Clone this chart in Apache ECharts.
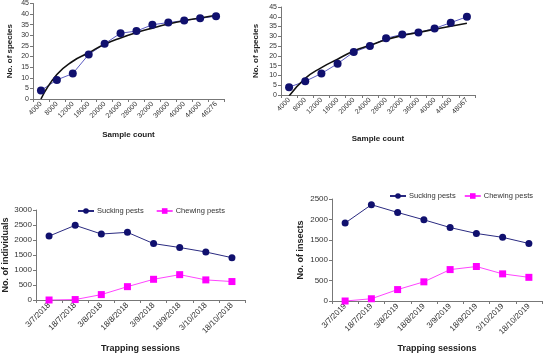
<!DOCTYPE html>
<html>
<head>
<meta charset="utf-8">
<script src="https://cdn.jsdelivr.net/npm/echarts@6/dist/echarts.min.js"></script>
<style>
  html, body { margin: 0; padding: 0; background: #fff; }
  #main { width: 545px; height: 354px; }
</style>
</head>
<body>
<div id="main"></div>
<script>
// species accumulation, left panel
const sampleLeft = ['4000', '8000', '12000', '16000', '20000', '24000', '28000', '32000', '36000', '40000', '44000', '46276'];
const speciesLeft = [4, 9, 12, 21, 26, 31, 32, 35, 36, 37, 38, 39];
const trendLeft = [0, 11.5, 17.8, 21.8, 25.8, 28.8, 31.3, 33.4, 35.3, 36.9, 38.2, 39.5];

// species accumulation, right panel
const sampleRight = ['4000', '8000', '12000', '16000', '20000', '24000', '28000', '32000', '36000', '40000', '44000', '48067'];
const speciesRight = [4, 7, 11, 16, 22, 25, 29, 31, 32, 34, 37, 40];
const trendRight = [-0.5, 8.5, 14, 18.3, 22.5, 25.4, 28.3, 30.4, 32, 33.6, 35.2, 36.7];

// trapping sessions
const sessions2018 = ['3/7/2018', '18/7/2018', '3/8/2018', '18/8/2018', '3/9/2018', '18/9/2018', '3/10/2018', '18/10/2018'];
const sucking2018 = [2130, 2490, 2200, 2255, 1880, 1750, 1600, 1410];
const chewing2018 = [0, 15, 180, 445, 690, 845, 670, 615];

const sessions2019 = ['3/7/2019', '18/7/2019', '3/8/2019', '18/8/2019', '3/9/2019', '18/9/2019', '3/10/2019', '18/10/2019'];
const sucking2019 = [1910, 2360, 2170, 1990, 1800, 1655, 1560, 1410];
const chewing2019 = [0, 55, 280, 470, 770, 845, 665, 580];

const font = 'Liberation Sans, Arial, sans-serif';
const navy = '#10106e';
const magenta = '#ff00ff';

function catAxis(idx, data, name, gap, size) {
  return {
    type: 'category', gridIndex: idx, data: data, boundaryGap: true,
    name: name, nameLocation: 'middle', nameGap: gap,
    nameTextStyle: { fontFamily: font, fontWeight: 'bold', fontSize: size + 1, color: '#222' },
    axisLine: { lineStyle: { color: '#777', width: 1 } },
    axisTick: { show: true, length: 3, lineStyle: { color: '#777' } },
    axisLabel: { rotate: 45, fontFamily: font, fontSize: size, color: '#333', margin: 4 }
  };
}

function valAxis(idx, max, interval, name, gap, size) {
  return {
    type: 'value', gridIndex: idx, min: 0, max: max, interval: interval,
    name: name, nameLocation: 'middle', nameGap: gap,
    nameTextStyle: { fontFamily: font, fontWeight: 'bold', fontSize: size + 1, color: '#222' },
    splitLine: { show: false },
    axisLine: { show: true, lineStyle: { color: '#777', width: 1 } },
    axisTick: { show: true, length: 3, lineStyle: { color: '#777' } },
    // plain numbers, no thousands separator
    axisLabel: { fontFamily: font, fontSize: size, color: '#333', margin: 4, formatter: v => String(v) }
  };
}

let chart = echarts.init(document.getElementById('main'));

let option = {
  animation: false,
  grid: [
    { left: 33, right: 321, top: 3, bottom: 255 },
    { left: 281, right: 70, top: 7, bottom: 259 },
    { left: 32, right: 300, top: 210, bottom: 54 },
    { left: 332, right: 3, top: 199, bottom: 49 }
  ],
  xAxis: [
    catAxis(0, sampleLeft, 'Sample count', 32, 7),
    catAxis(1, sampleRight, 'Sample count', 40, 7),
    catAxis(2, sessions2018, 'Trapping sessions', 44, 8),
    catAxis(3, sessions2019, 'Trapping sessions', 43, 8)
  ],
  yAxis: [
    valAxis(0, 45, 5, 'No. of species', 19, 7),
    valAxis(1, 45, 5, 'No. of species', 21, 7),
    valAxis(2, 3000, 500, 'No. of individuals', 26, 8),
    valAxis(3, 2500, 500, 'No. of insects', 27, 8)
  ],
  legend: [
    {
      left: 77, top: 207, padding: 0, itemWidth: 16, itemHeight: 7, itemGap: 12,
      data: ['Sucking pests', 'Chewing pests'],
      textStyle: { fontFamily: font, fontSize: 7.5, color: '#333', padding: [0, 0, 0, -2] }
    },
    {
      left: 389, top: 192, padding: 0, width: 160, itemWidth: 16, itemHeight: 7, itemGap: 6,
      data: ['Sucking pests ', 'Chewing pests '],
      textStyle: { fontFamily: font, fontSize: 7.5, color: '#333', padding: [0, 0, 0, -2] }
    }
  ],
  series: [
    {
      type: 'line', xAxisIndex: 0, yAxisIndex: 0, data: speciesLeft,
      symbol: 'circle', symbolSize: 8, itemStyle: { color: navy },
      lineStyle: { color: '#5a5ac0', width: 1 }
    },
    {
      type: 'line', xAxisIndex: 0, yAxisIndex: 0, data: trendLeft, smooth: 0.5,
      symbol: 'none', lineStyle: { color: '#111', width: 1.6 }
    },
    {
      type: 'line', xAxisIndex: 1, yAxisIndex: 1, data: speciesRight,
      symbol: 'circle', symbolSize: 8, itemStyle: { color: navy },
      lineStyle: { color: '#5a5ac0', width: 1 }
    },
    {
      type: 'line', xAxisIndex: 1, yAxisIndex: 1, data: trendRight, smooth: 0.5,
      symbol: 'none', lineStyle: { color: '#111', width: 1.6 }
    },
    {
      name: 'Sucking pests', type: 'line', xAxisIndex: 2, yAxisIndex: 2, data: sucking2018,
      symbol: 'circle', symbolSize: 7, itemStyle: { color: navy },
      lineStyle: { color: '#2a2a80', width: 1 }
    },
    {
      name: 'Chewing pests', type: 'line', xAxisIndex: 2, yAxisIndex: 2, data: chewing2018,
      symbol: 'rect', symbolSize: 7, itemStyle: { color: magenta },
      lineStyle: { color: '#ff44ff', width: 1 }
    },
    {
      name: 'Sucking pests ', type: 'line', xAxisIndex: 3, yAxisIndex: 3, data: sucking2019,
      symbol: 'circle', symbolSize: 7, itemStyle: { color: navy },
      lineStyle: { color: '#2a2a80', width: 1 }
    },
    {
      name: 'Chewing pests ', type: 'line', xAxisIndex: 3, yAxisIndex: 3, data: chewing2019,
      symbol: 'rect', symbolSize: 7, itemStyle: { color: magenta },
      lineStyle: { color: '#ff44ff', width: 1 }
    }
  ]
};

chart.setOption(option);
</script>
</body>
</html>
